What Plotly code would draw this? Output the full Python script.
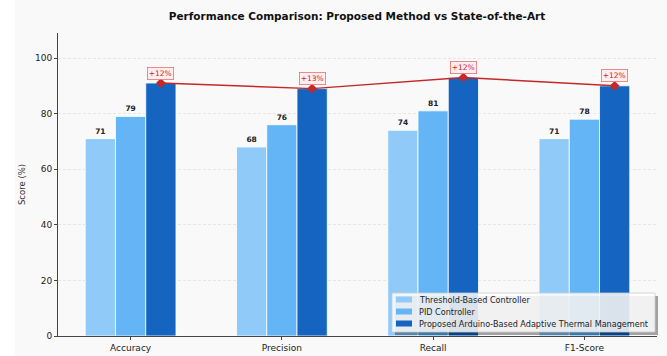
import numpy as np
import plotly.graph_objects as go

categories = ["Accuracy", "Precision", "Recall", "F1-Score"]
threshold = [71, 68, 74, 71]
pid = [79, 76, 81, 78]
proposed = [91, 89, 93, 90]
series_names = ["Threshold-Based Controller", "PID Controller",
                "Proposed Arduino-Based Adaptive Thermal Management"]
colors = ["#90CAF9", "#64B5F6", "#1565C0"]
y_ticks = [0, 20, 40, 60, 80, 100]

FONT = "DejaVu Sans"
W, H = 667, 356
ML, MR, MT, MB = 58, 10, 33, 20
PW, PH = W - ML - MR, H - MT - MB
pos = np.arange(len(categories))
bw = 0.2


def px(x):
    return (x - ML) / PW


def py(y):
    return (H - MB - y) / PH


fig = go.Figure()
for k, (name, vals, col) in enumerate(zip(series_names, [threshold, pid, proposed], colors)):
    show_text = k < 2
    fig.add_trace(go.Bar(
        x=pos + (k - 1) * bw, y=vals, width=bw, name=name, showlegend=False,
        marker=dict(color=col, line=dict(color="white", width=0.8)),
        text=[str(v) for v in vals] if show_text else None,
        textposition="outside" if show_text else None,
        textfont=dict(family=FONT, size=7.5, color="#222222", weight="bold"),
        cliponaxis=False,
    ))

fig.add_trace(go.Scatter(
    x=pos + bw, y=proposed, mode="lines+markers", showlegend=False,
    line=dict(color="#C62828", width=1.4),
    marker=dict(symbol="diamond", size=7.5, color="#C62828"),
    hoverinfo="skip",
))

for i, (p, q) in enumerate(zip(proposed, pid)):
    fig.add_annotation(
        x=pos[i] + bw, y=p, text=f"+{p - q}%", showarrow=False, yshift=10,
        font=dict(family=FONT, size=7.5, color="#C62828"),
        bgcolor="rgba(255,235,238,0.9)", bordercolor="#E57373", borderwidth=0.8, borderpad=1,
    )

# white strip on the left of the figure
fig.add_shape(type="rect", xref="paper", yref="paper", layer="below",
              x0=px(0), x1=px(15), y0=py(H), y1=py(0),
              fillcolor="white", line=dict(width=0))

# custom legend (matplotlib style with shadow)
LX0, LX1, LY0, LY1 = 392, 655, 293, 332
fig.add_shape(type="rect", xref="paper", yref="paper", layer="above",
              x0=px(LX0 + 3), x1=px(LX1 + 3), y0=py(LY1 + 3), y1=py(LY0 + 3),
              fillcolor="rgba(0,0,0,0.35)", line=dict(width=0))
fig.add_shape(type="rect", xref="paper", yref="paper", layer="above",
              x0=px(LX0), x1=px(LX1), y0=py(LY1), y1=py(LY0),
              fillcolor="rgba(255,255,255,0.85)", line=dict(color="#cccccc", width=0.8))
row_y = [299.5, 311.5, 323.5]
for name, col, ry in zip(series_names, colors, row_y):
    fig.add_shape(type="rect", xref="paper", yref="paper", layer="above",
                  x0=px(396), x1=px(412), y0=py(ry + 3), y1=py(ry - 3),
                  fillcolor=col, line=dict(width=0))
    fig.add_annotation(xref="paper", yref="paper", x=px(417), y=py(ry), text=name,
                       showarrow=False, xanchor="left", yanchor="middle",
                       font=dict(family=FONT, size=8.1, color="#222222"))

fig.update_layout(
    width=W, height=H,
    margin=dict(l=ML, r=MR, t=MT, b=MB, pad=0),
    paper_bgcolor="#f9f9f9", plot_bgcolor="#f9f9f9",
    barmode="overlay",
    font=dict(family=FONT, size=9, color="#333333"),
    title=dict(text="<b>Performance Comparison: Proposed Method vs State-of-the-Art</b>",
               x=(357) / W, xanchor="center", y=1 - 16 / H, yanchor="middle",
               font=dict(family=FONT, size=10.5, color="#111111")),
    xaxis=dict(range=[-0.48, 3.48], tickvals=list(pos), ticktext=categories,
               showgrid=False, zeroline=False, showline=True, linecolor="#444444", linewidth=1,
               ticks="outside", ticklen=3, tickcolor="#444444", automargin=False,
               tickfont=dict(family=FONT, size=9, color="#222222")),
    yaxis=dict(range=[0, 109], tickvals=y_ticks, showgrid=True, gridcolor="#e6e6e6",
               griddash="3px,2px", gridwidth=0.7, zeroline=False, showline=True,
               linecolor="#444444", linewidth=1, ticks="outside", ticklen=3, tickcolor="#444444",
               automargin=False,
               tickfont=dict(family=FONT, size=9, color="#222222"),
               title=dict(text="Score (%)", font=dict(family=FONT, size=8.5, color="#333333"), standoff=8)),
    showlegend=False,
)

fig.write_html("out.html")
